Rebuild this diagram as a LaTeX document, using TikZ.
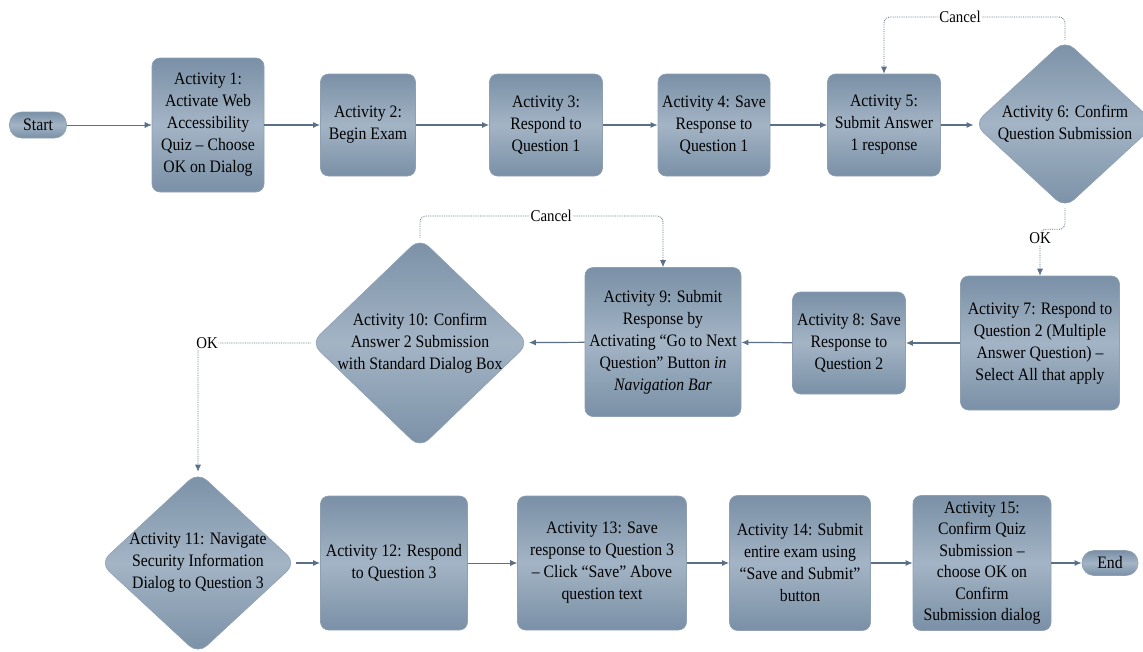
\documentclass[tikz,border=0pt]{standalone}
\usepackage{fontspec}
\setmainfont{Liberation Serif}[FakeStretch=0.9]
\usetikzlibrary{arrows.meta,shapes.geometric}
\definecolor{boxdark}{HTML}{7A90A6}
\definecolor{boxlight}{HTML}{A3B4C5}
\definecolor{boxedge}{HTML}{8FA0B3}
\definecolor{linec}{HTML}{5B7086}
\tikzset{
  txt/.style={font=\fontsize{17.5}{22}\selectfont, align=center},
  actbox/.style={rectangle, rounded corners=8pt, top color=boxdark, bottom color=boxdark, middle color=boxlight, draw=boxedge, line width=0.6pt, txt, inner sep=0pt},
  pill/.style={rectangle, rounded corners=12pt, top color=boxdark, bottom color=boxdark, middle color=boxlight, draw=boxedge, line width=0.6pt, txt, inner sep=0pt, minimum height=26pt},
  decide/.style={diamond, rounded corners=12pt, top color=boxdark, bottom color=boxdark, middle color=boxlight, draw=boxedge, line width=0.6pt, inner sep=0pt},
  conn/.style={draw=linec, line width=1.2pt, -{Latex[length=7pt,width=6pt]}},
  thinconn/.style={draw=linec, line width=0.7pt, -{Latex[length=7pt,width=6pt]}},
  dotconn/.style={draw=linec, line width=0.8pt, densely dotted, rounded corners=6pt, -{Latex[length=7pt,width=6pt]}},
  lbl/.style={fill=white, inner sep=1pt, font=\fontsize{16.5}{18}\selectfont},
}
\begin{document}
\begin{tikzpicture}[x=1pt,y=-1pt]
\useasboundingbox (0,0) rectangle (1143,651);
% row 1
\node[pill, minimum width=57pt] (start) at (38,125) {Start};
\node[actbox, minimum width=112pt, minimum height=134pt] (a1) at (208,125) {Activity 1:\\Activate Web\\Accessibility\\Quiz – Choose\\OK on Dialog};
\node[actbox, minimum width=95pt, minimum height=102pt] (a2) at (368,125) {Activity 2:\\Begin Exam};
\node[actbox, minimum width=113pt, minimum height=102pt] (a3) at (546,125) {Activity 3:\\Respond to\\Question 1};
\node[actbox, minimum width=112pt, minimum height=102pt] (a4) at (714,125) {Activity 4: Save\\Response to\\Question 1};
\node[actbox, minimum width=113pt, minimum height=102pt] (a5) at (884,125) {Activity 5:\\Submit Answer\\1 response};
\node[decide, minimum width=182pt, minimum height=168pt, label={[txt]center:Activity 6: Confirm\\Question Submission}] (a6) at (1065,124) {};
% row 2
\node[actbox, minimum width=159pt, minimum height=134pt] (a7) at (1040,343) {Activity 7: Respond to\\Question 2 (Multiple\\Answer Question) –\\Select All that apply};
\node[actbox, minimum width=113pt, minimum height=102pt] (a8) at (849,343) {Activity 8: Save\\Response to\\Question 2};
\node[actbox, minimum width=156pt, minimum height=149pt] (a9) at (663,342) {Activity 9: Submit\\Response by\\Activating “Go to Next\\Question” Button \textit{in}\\\textit{Navigation Bar}};
\node[decide, minimum width=218pt, minimum height=210pt, label={[txt]center:Activity 10: Confirm\\Answer 2 Submission\\with Standard Dialog Box}] (a10) at (420,343) {};
% row 3
\node[decide, minimum width=196pt, minimum height=182pt, label={[txt]center:Activity 11: Navigate\\Security Information\\Dialog to Question 3}] (a11) at (198,563) {};
\node[actbox, minimum width=147pt, minimum height=134pt] (a12) at (394,563) {Activity 12: Respond\\to Question 3};
\node[actbox, minimum width=169pt, minimum height=134pt] (a13) at (602,563) {Activity 13: Save\\response to Question 3\\– Click “Save” Above\\question text};
\node[actbox, minimum width=141pt, minimum height=135pt] (a14) at (800,563) {Activity 14: Submit\\entire exam using\\“Save and Submit”\\button};
\node[actbox, minimum width=138pt, minimum height=135pt, font=\fontsize{17.5}{21.5}\selectfont] (a15) at (982,563) {Activity 15:\\Confirm Quiz\\Submission –\\choose OK on\\Confirm\\Submission dialog};
\node[pill, minimum width=56pt, minimum height=25pt] (end) at (1110,563) {End};
% connectors
\draw[thinconn] (start) -- (a1);
\draw[conn] (a1) -- (a2);
\draw[conn] (a2) -- (a3);
\draw[conn] (a3) -- (a4);
\draw[conn] (a4) -- (a5);
\draw[conn] (a5) -- (a6.west |- a5.east);
\draw[dotconn] (a6.north) -- (a6.north |- 0,17) -- node[lbl, pos=0.58]{Cancel} (a5.north |- 0,17) -- (a5.north);
\draw[dotconn] (a6.south) -- ++(0,21) -| node[lbl, pos=0.6]{OK} (a7.north);
\draw[conn] (a7) -- (a8);
\draw[conn] (a8) -- (a9);
\draw[conn] (a9) -- (a10);
\draw[dotconn] (a10.north) -- (a10.north |- 0,216) -- node[lbl, pos=0.54]{Cancel} (a9.north |- 0,216) -- (a9.north);
\draw[dotconn] (a10.west) -| node[lbl, pos=0.46]{OK} (a11.north);
\draw[conn] (a11) -- (a12);
\draw[thinconn] (a12) -- (a13);
\draw[conn] (a13) -- (a14);
\draw[conn] (a14) -- (a15);
\draw[conn] (a15) -- (end);
\end{tikzpicture}
\end{document}
